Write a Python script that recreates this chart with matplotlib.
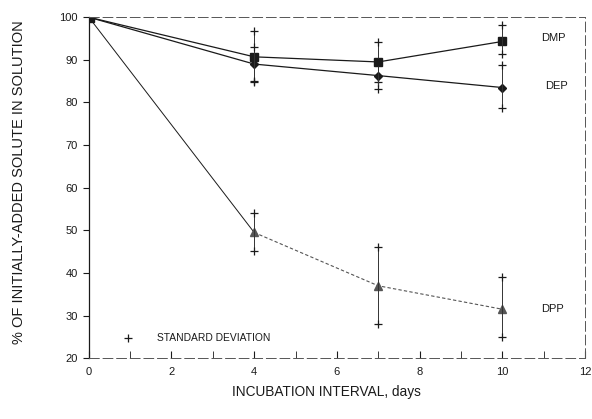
import matplotlib
matplotlib.use("Agg")
import matplotlib.pyplot as plt
import numpy as np

plt.rcParams['font.family'] = ['Liberation Sans', 'DejaVu Sans']

days = [0, 4, 7, 10]
dmp = [100, 90.7, 89.5, 94.3]
dep = [100, 89.0, 86.3, 83.5]
dpp = [100, 49.5, 37.0, 31.5]

dmp_hi = [100, 96.7, 94.2, 98.2]
dmp_lo = [100, 84.8, 84.8, 91.3]
dep_hi = [100, 93.0, 89.5, 88.8]
dep_lo = [100, 85.0, 83.1, 78.6]
dpp_hi = [100, 54.0, 46.0, 39.0]
dpp_lo = [100, 45.2, 28.0, 25.0]

series_names = ["DMP", "DEP", "DPP"]
label_pos = [(10.95, 95.0), (11.05, 83.8), (10.95, 31.5)]

fig = plt.figure(figsize=(5.92, 4.19), dpi=100)
ax = fig.add_axes([0.150, 0.145, 0.838, 0.814])

col = "#1a1a1a"
ax.plot(days, dmp, color=col, lw=0.9, marker='s', ms=5.5)
ax.plot(days, dep, color=col, lw=0.9, marker='D', ms=4)
ax.plot(days[:2], dpp[:2], color=col, lw=0.7)
ax.plot(days[1:], dpp[1:], color="#555555", lw=0.8, ls=(0, (3, 2)), marker='^', ms=5.5)
ax.plot([0], [100], color=col, marker='s', ms=7)

for hi, lo in [(dmp_hi, dmp_lo), (dep_hi, dep_lo), (dpp_hi, dpp_lo)]:
    for d, h, l in zip(days[1:], hi[1:], lo[1:]):
        ax.plot([d, d], [l, h], color="#333333", lw=0.7)
        ax.plot([d, d], [l, h], ls='none', marker='+', ms=6, mew=0.9, color=col)

for name, (x, y) in zip(series_names, label_pos):
    ax.text(x, y, name, fontsize=8, va='center', ha='left', color=col)

ax.plot([0.95], [24.7], ls='none', marker='+', ms=6, mew=0.9, color=col)
ax.text(1.65, 24.7, "STANDARD DEVIATION", fontsize=7.4, va='center', ha='left', color=col)

ax.set_xlim(0, 12)
ax.set_ylim(20, 100)
ax.set_xticks(range(0, 13, 2))
ax.set_xticks(range(1, 12, 2), minor=True)
ax.set_yticks(range(20, 101, 10))
ax.tick_params(axis='x', direction='in', length=5, labelsize=8, pad=6, colors=col, which='both')
ax.tick_params(axis='y', direction='out', length=4, labelsize=8, pad=4, colors=col)

for s in ['top', 'right', 'bottom']:
    ax.spines[s].set_linestyle((0, (10, 4)))
    ax.spines[s].set_linewidth(0.7)
    ax.spines[s].set_color("#555555")
ax.spines['left'].set_linewidth(0.9)
ax.spines['left'].set_color(col)

fig.text(0.551, 0.065, "INCUBATION INTERVAL, days", ha='center', va='center', fontsize=9.8, color=col)
fig.text(0.032, 0.566, "% OF INITIALLY-ADDED SOLUTE IN SOLUTION", rotation=90,
         ha='center', va='center', fontsize=10.5, color=col)

fig.savefig("out.png", dpi=100)
